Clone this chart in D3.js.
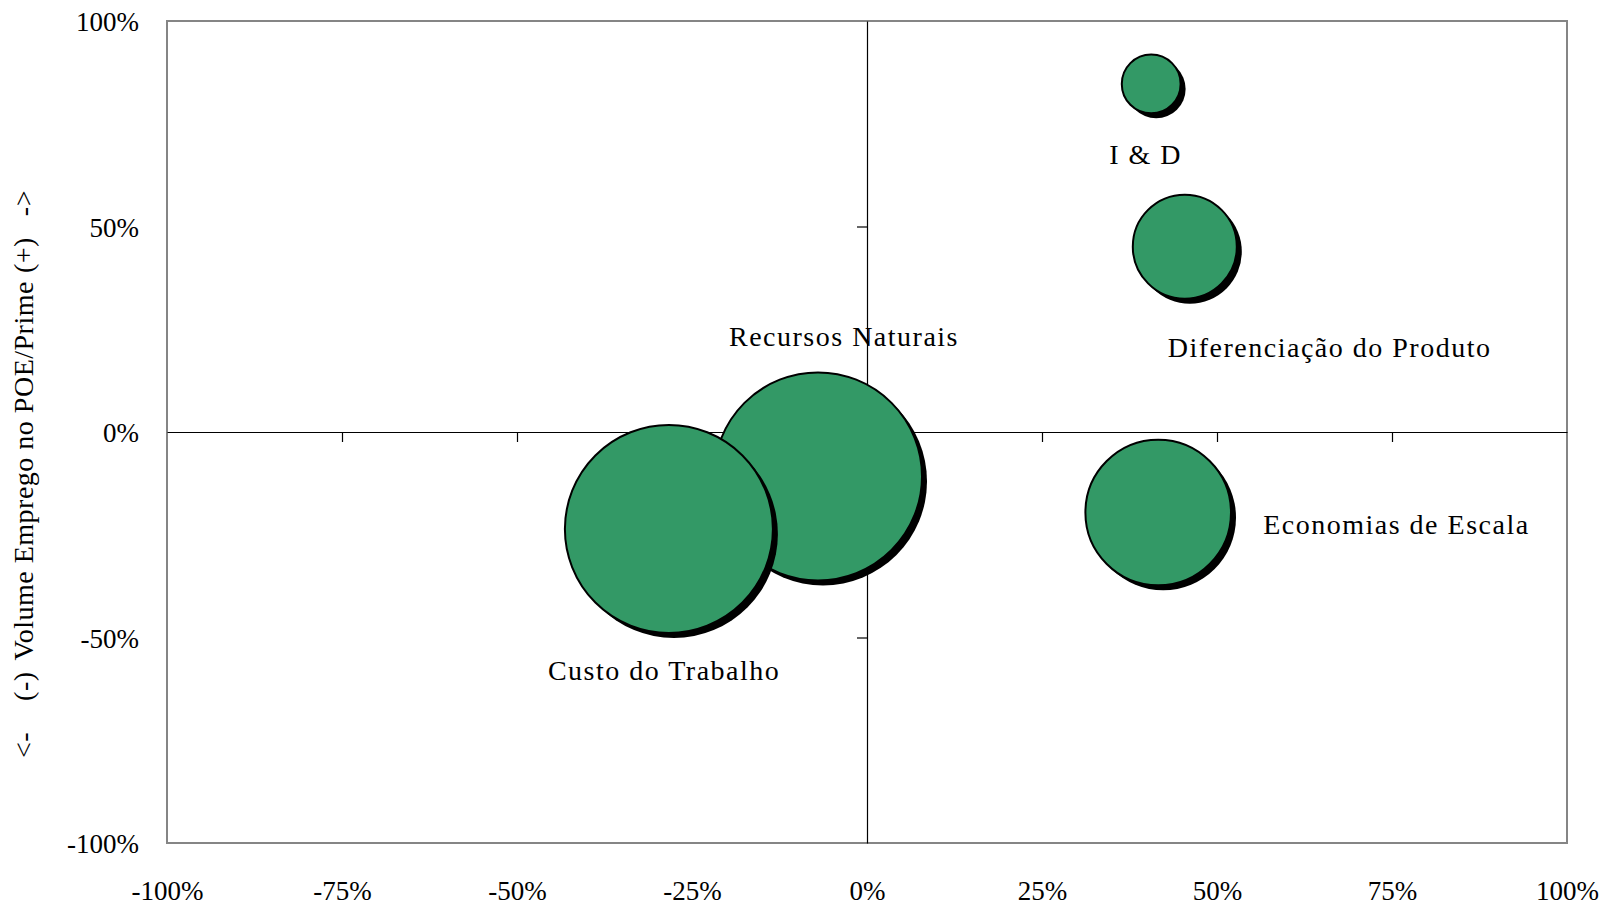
<!DOCTYPE html>
<html><head><meta charset="utf-8">
<script src="https://cdn.jsdelivr.net/npm/d3@7"></script>
<style>
html,body{margin:0;padding:0;background:#fff;}
svg{display:block;font-family:"Liberation Serif","Times New Roman",serif;}
</style></head>
<body>
<svg id="chart" width="1607" height="906"></svg>
<script>
// ---- data ----
const categories = ["I & D", "Diferenciação do Produto", "Economias de Escala", "Recursos Naturais", "Custo do Trabalho"];
const xValues = [0.406, 0.454, 0.416, -0.070, -0.283];      // horizontal position
const yValues = [0.847, 0.451, -0.196, -0.108, -0.236];     // Volume Emprego no POE/Prime
const sizeValues = [8, 25, 49, 100, 100];                    // bubble size (area)
const xTickValues = [-1, -0.75, -0.5, -0.25, 0, 0.25, 0.5, 0.75, 1];
const yTickValues = [-1, -0.5, 0, 0.5, 1];
const yTitleParts = ["<-", "(-)", "Volume Emprego no POE/Prime", "(+)", "->"];

// label placement (offsets relative to bubble centre)
const labelDx = [-42, -17, 105, -89, -121];
const labelDy = [80, 110, 21, -130, 151];

const W = 1607, H = 906;
const plot = {left: 167, right: 1567, top: 21, bottom: 843};

const svg = d3.select("#chart");
const x = d3.scaleLinear().domain([-1, 1]).range([plot.left, plot.right]);
const y = d3.scaleLinear().domain([-1, 1]).range([plot.bottom, plot.top]);
const r = d3.scaleSqrt().domain([0, 100]).range([0, 104]);
const pct = d => Math.round(d * 100) + "%";

// frame
svg.append("rect")
  .attr("x", plot.left).attr("y", plot.top)
  .attr("width", plot.right - plot.left).attr("height", plot.bottom - plot.top)
  .attr("fill", "none").attr("stroke", "#858585").attr("stroke-width", 2);

// zero axes with ticks
const gx = svg.append("g").attr("transform", `translate(0,${y(0)})`)
  .call(d3.axisBottom(x).tickValues(xTickValues.filter(v => v > -1 && v < 1 && v !== 0)).tickSize(10).tickSizeOuter(0).tickFormat(""));
gx.select(".domain").attr("stroke", "#000").attr("stroke-width", 1.2);
gx.selectAll(".tick line").attr("stroke", "#000").attr("stroke-width", 1.2);

const gy = svg.append("g").attr("transform", `translate(${x(0)},0)`)
  .call(d3.axisLeft(y).tickValues(yTickValues.filter(v => v > -1 && v < 1 && v !== 0)).tickSize(10).tickSizeOuter(0).tickFormat(""));
gy.select(".domain").attr("stroke", "#000").attr("stroke-width", 1.2);
gy.selectAll(".tick line").attr("stroke", "#000").attr("stroke-width", 1.2);

// tick labels
const gxl = svg.append("g").attr("transform", `translate(0,${plot.bottom})`)
  .call(d3.axisBottom(x).tickValues(xTickValues).tickSize(0).tickPadding(0).tickFormat(pct));
gxl.select(".domain").remove();
gxl.selectAll("text").attr("dy", null).attr("y", 57)
  .attr("font-family", "Liberation Serif").attr("font-size", 27).attr("fill", "#000");

const gyl = svg.append("g").attr("transform", `translate(${plot.left},0)`)
  .call(d3.axisLeft(y).tickValues(yTickValues).tickSize(0).tickPadding(0).tickFormat(pct));
gyl.select(".domain").remove();
gyl.selectAll("text").attr("x", -28).attr("dy", "0.36em")
  .attr("font-family", "Liberation Serif").attr("font-size", 27).attr("fill", "#000");

// y title (reads bottom to top)
const gaps = [0, 31, 11, 8, 21];
const yt = svg.append("text")
  .attr("transform", `translate(33,758) rotate(-90)`)
  .attr("text-anchor", "start")
  .attr("font-size", 28).attr("letter-spacing", 0.5).attr("fill", "#000");
yt.selectAll("tspan").data(yTitleParts).join("tspan")
  .attr("dx", (d, i) => gaps[i])
  .text(d => d);

// bubbles
const data = categories.map((c, i) => ({name: c, x: xValues[i], y: yValues[i], s: sizeValues[i], dx: labelDx[i], dy: labelDy[i]}));
const gb = svg.append("g");
data.forEach(d => {
  gb.append("circle")
    .attr("cx", x(d.x) + 5).attr("cy", y(d.y) + 5).attr("r", r(d.s))
    .attr("fill", "#000");
  gb.append("circle")
    .attr("cx", x(d.x)).attr("cy", y(d.y)).attr("r", r(d.s))
    .attr("fill", "#339966").attr("stroke", "#000").attr("stroke-width", 2);
});

// labels
svg.append("g").selectAll("text").data(data).join("text")
  .attr("x", d => x(d.x) + d.dx)
  .attr("y", d => y(d.y) + d.dy)
  .attr("font-size", 28).attr("letter-spacing", 1.5).attr("fill", "#000")
  .text(d => d.name);
</script>
</body></html>
